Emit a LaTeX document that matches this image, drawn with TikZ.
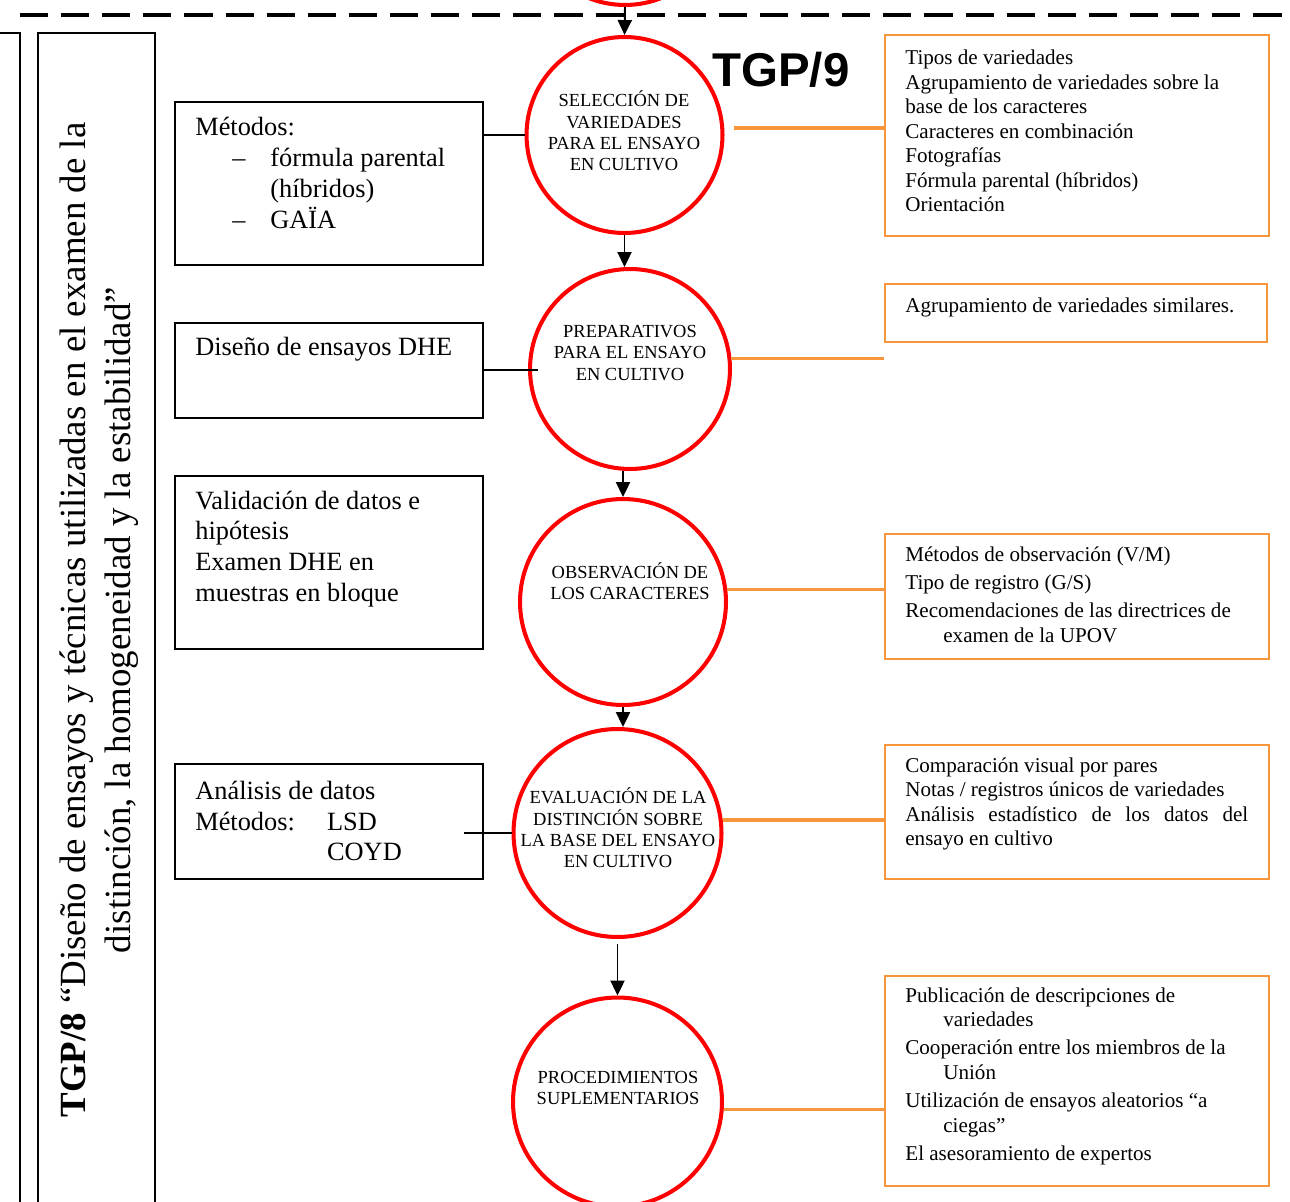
\documentclass[tikz,border=0pt]{standalone}
\usepackage{fontspec}
\setmainfont{Liberation Serif}
\newfontfamily\headfont{Liberation Sans}
\usetikzlibrary{arrows.meta, positioning, calc}

\definecolor{upovorange}{RGB}{248,150,62}
\newcommand{\dashitem}[1]{\makebox[42.7pt][l]{\hspace*{21pt}--}#1}
\newcommand{\hang}{\hspace*{0.76cm}}

\begin{document}
\begin{tikzpicture}[x=0.02cm, y=-0.02cm, >={Triangle[length=8.5pt, width=8pt]},
  stage/.style={draw=red, line width=2.3pt, circle, inner sep=0pt},
  stagetext/.style={align=center, inner sep=0pt, font=\fontsize{10.5}{12.2}\selectfont},
  leftbox/.style={draw, line width=0.9pt, anchor=north west, minimum width=6.16cm},
  lefttext/.style={align=left, anchor=west, inner sep=0pt, font=\fontsize{15}{17.5}\selectfont},
  rightbox/.style={draw=upovorange, line width=1.2pt, anchor=north west, minimum width=7.68cm},
  righttext/.style={align=left, anchor=west, inner sep=0pt, font=\fontsize{12}{14}\selectfont},
  sidetext/.style={align=center, inner sep=0pt, font=\fontsize{21}{25.6}\selectfont},
  panel/.style={draw, line width=0.9pt},
  flow/.style={->, line width=1.1pt},
  tie/.style={line width=1pt},
  feed/.style={draw=upovorange, line width=1.9pt}]

  \clip (0,0) rectangle (1290,1202);

  % dashed separator at the top
  \draw[line width=2.8pt, dash pattern=on 16pt off 7.4pt] (20,15) -- (1290,15);

  % side panels with the TGP/8 title
  \draw[panel] (-10,33) rectangle (20,1215);
  \draw[panel] (38,33) rectangle (155,1215);
  \node[sidetext, rotate=90] (side) at (99,620)
    {\textbf{TGP/8} “Diseño de ensayos y técnicas utilizadas en el examen de la\\
     distinción, la homogeneidad y la estabilidad”};

  % the stages (red circles)
  \node[stage, minimum size=3.92cm] (c0) at (625,-93) {};
  \node[stage, minimum size=3.92cm] (c1) at (624.5,135) {};
  \node[stage, minimum size=4.0cm] (c2) at (630,369) {};
  \node[stage, minimum size=4.12cm] (c3) at (623,602) {};
  \node[stage, minimum size=4.16cm] (c4) at (617.5,833) {};
  \node[stage, minimum size=4.18cm] (c5) at (617.5,1102) {};

  \node[stagetext] (t1) at (624,131) {SELECCIÓN DE\\VARIEDADES\\PARA EL ENSAYO\\EN CULTIVO};
  \node[stagetext] (t2) at (630,353) {PREPARATIVOS\\PARA EL ENSAYO\\EN CULTIVO};
  \node[stagetext] (t3) at (630,581) {OBSERVACIÓN DE\\LOS CARACTERES};
  \node[stagetext] (t4) at (618,828) {EVALUACIÓN DE LA\\DISTINCIÓN SOBRE\\LA BASE DEL ENSAYO\\EN CULTIVO};
  \node[stagetext] (t5) at (618,1088) {PROCEDIMIENTOS\\SUPLEMENTARIOS};

  \node[anchor=west, inner sep=0pt, font=\headfont\bfseries\fontsize{27}{30}\selectfont] (tgp9) at (712,70) {TGP/9};

  % flow between the stages
  \draw[flow] (c0.south) -- (c1.north);
  \draw[flow] (c1.south) -- (c1.south |- c2.north);
  \draw[flow] (c3.north |- c2.south) -- (c3.north);
  \draw[flow] (c3.south) -- (c3.south |- c4.north);
  \draw[flow, shorten <=3pt] (c4.south) -- (c5.north);

  % boxes on the left (TGP/8)
  \node[leftbox, minimum height=3.26cm] (bA) at (174,101) {};
  \node[leftbox, minimum height=1.9cm] (bB) at (174,322) {};
  \node[leftbox, minimum height=3.46cm] (bC) at (174,475) {};
  \node[leftbox, minimum height=2.3cm] (bD) at (174,763) {};

  \node[lefttext] (tA) at (195,173) {Métodos:\\ \dashitem{fórmula parental}\\ \hspace*{42.7pt}(híbridos)\\ \dashitem{GAÏA}};
  \node[lefttext] (tB) at (195,349) {Diseño de ensayos DHE};
  \node[lefttext] (tC) at (195,549) {Validación de datos e\\hipótesis\\Examen DHE en\\muestras en bloque};
  \node[lefttext] (tD) at (195,821) {Análisis de datos\\ \makebox[75pt][l]{Métodos:}LSD\\ \hspace*{75pt}COYD};

  \draw[tie] (c1.west -| bA.east) -- (c1.west);
  \draw[tie] (bB.east) -- ($(bB.east -| c2.west)+(10,0)$);
  \draw[tie] ($(c4.west -| bD.east)+(-20,0)$) -- (c4.west);

  % boxes on the right (TGP/9)
  \node[rightbox, minimum height=4.02cm] (r1) at (884,34) {};
  \node[rightbox, minimum height=1.16cm, minimum width=7.64cm] (r2) at (884,283) {};
  \node[rightbox, minimum height=2.5cm] (r3) at (884,533) {};
  \node[rightbox, minimum height=2.68cm] (r4) at (884,744) {};
  \node[rightbox, minimum height=4.2cm] (r5) at (884,975) {};

  \node[righttext] (s1) at (905,131) {Tipos de variedades\\ Agrupamiento de variedades sobre la\\ base de los caracteres\\ Caracteres en combinación\\ Fotografías\\ Fórmula parental (híbridos)\\ Orientación};
  \node[righttext] (s2) at (905,307) {Agrupamiento de variedades similares.};
  \node[righttext] (s3) at (905,595) {Métodos de observación (V/M)\\[2pt] Tipo de registro (G/S)\\[2pt] Recomendaciones de las directrices de\\ \hang examen de la UPOV};
  \node[righttext] (s4) at (905,804) {Comparación visual por pares\\ Notas / registros únicos de variedades\\ \makebox[6.86cm][s]{Análisis estadístico de los datos del}\\ ensayo en cultivo};
  \node[righttext] (s5) at (905,1076) {Publicación de descripciones de\\ \hang variedades\\[2pt] Cooperación entre los miembros de la\\ \hang Unión\\[2pt] Utilización de ensayos aleatorios “a\\ \hang ciegas”\\[2pt] El asesoramiento de expertos};

  \draw[feed] ($(c1.4)+(10,0)$) -- (c1.4 -| r1.west);
  \draw[feed] (c2.6) -- (c2.6 -| r2.west);
  \draw[feed] (c3.7) -- (c3.7 -| r3.west);
  \draw[feed] (c4.7) -- (c4.7 -| r4.west);
  \draw[feed] (c5.356) -- (c5.356 -| r5.west);

\end{tikzpicture}
\end{document}
